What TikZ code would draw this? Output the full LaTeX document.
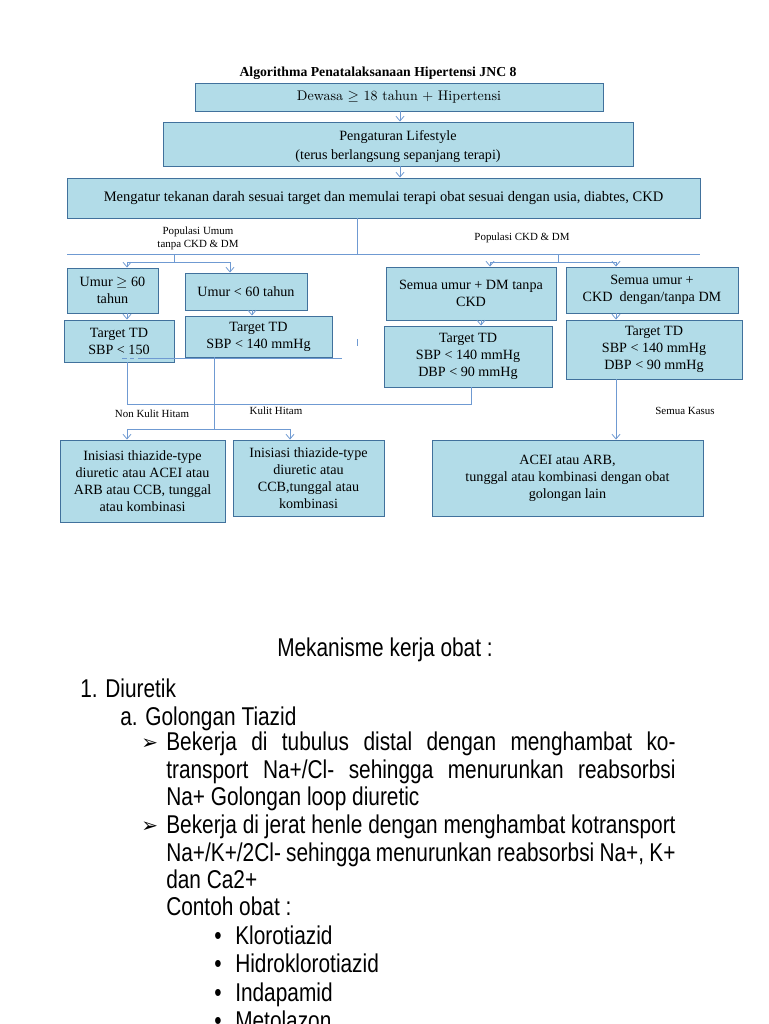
\documentclass[tikz,border=0pt]{standalone}
\usepackage{fontspec}
\setmainfont{Liberation Serif}
\newfontfamily\narrowsans[FakeStretch=0.81]{Liberation Sans}
\newfontfamily\dejavu{DejaVu Sans}
\newfontfamily\lmfont{Latin Modern Roman}
\usetikzlibrary{arrows.meta,calc}
\definecolor{boxfill}{HTML}{B2DCE8}
\definecolor{boxdraw}{HTML}{41719C}
\definecolor{linec}{HTML}{6F9AD2}
\newcommand\fcfont{\fontsize{10.6}{12.8}\selectfont}
\newcommand\fcwide{\fontsize{10.6}{14.5}\selectfont}
\newcommand\lblfont{\fontsize{8.2}{9.6}\selectfont}
\newcommand\bodyfont{\narrowsans\fontsize{19.3}{21}\selectfont}
\begin{document}
\begin{tikzpicture}[x=0.75pt,y=-0.75pt,
  box/.style={draw=boxdraw, fill=boxfill, line width=0.7pt, inner sep=0pt, align=center, font=\fcfont},
  sz/.style 2 args={minimum width=#1*0.75pt, minimum height=#2*0.75pt},
  ln/.style={draw=linec, line width=0.6pt},
  arr/.style={ln, -{Straight Barb[length=3.5pt,width=6pt]}},
  lbl/.style={font=\lblfont, inner sep=0pt, align=center},
  txt/.style={font=\bodyfont, anchor=base west, inner sep=0pt},
  arrowbullet/.style={txt, font=\dejavu\fontsize{15}{16}\selectfont}]
\useasboundingbox (0,0) rectangle (768,1024);
\fill[white] (0,0) rectangle (768,1024);

% title
\node[font=\bfseries\fontsize{10.3}{12}\selectfont, inner sep=0pt] (title) at (378,73) {Algorithma Penatalaksanaan Hipertensi JNC 8};

% boxes
\node[box, sz={408}{28}, font=\lmfont\fontsize{10.5}{12}\selectfont] (dewasa) at (399,97) {Dewasa $\geq$ 18 tahun + Hipertensi};
\node[box, sz={470}{44}, font=\fcwide] (life) at (398,144) {\rule{0pt}{11pt}Pengaturan Lifestyle\\(terus berlangsung sepanjang terapi)};
\node[box, sz={633}{40}, font=\fontsize{10.9}{13}\selectfont] (atur) at (383.5,198) {Mengatur tekanan darah sesuai target dan memulai terapi obat sesuai dengan usia, diabtes, CKD};

\node[box, sz={91}{45}] (a60) at (112.5,290.5) {Umur $\geq$ 60\\tahun};
\node[box, sz={122}{37}] (lt60) at (246,291.5) {Umur {\textless} 60 tahun};
\node[box, sz={110}{42}] (t150) at (119,341) {Target TD\\SBP {\textless} 150};
\node[box, sz={147}{41}] (t140a) at (258.5,336.5) {Target TD\\SBP {\textless} 140 mmHg};
\node[box, sz={170}{53}] (dm) at (471,293.5) {Semua umur + DM tanpa\\CKD};
\node[box, sz={172}{46}] (ckd) at (652,290) {Semua umur +\\CKD\ \ dengan/tanpa DM};
\node[box, sz={168}{61}] (t140b) at (468,356.5) {Target TD\\SBP {\textless} 140 mmHg\\DBP {\textless} 90 mmHg};
\node[box, sz={176}{59}] (t140c) at (654,349.5) {Target TD\\SBP {\textless} 140 mmHg\\DBP {\textless} 90 mmHg};

\node[box, sz={165}{82}] (nk) at (142.5,481) {Inisiasi thiazide-type\\diuretic atau ACEI atau\\ARB atau CCB, tunggal\\atau kombinasi};
\node[box, sz={151}{76}] (k) at (308.5,478) {Inisiasi thiazide-type\\diuretic atau\\CCB,tunggal atau\\kombinasi};
\node[box, sz={271}{76}] (acei) at (567.5,478) {ACEI atau ARB,\\tunggal atau kombinasi dengan obat\\golongan lain};

% labels
\node[lbl] (popu) at (198,238) {Populasi Umum\\tanpa CKD \& DM};
\node[lbl] (popc) at (522,238) {Populasi CKD \& DM};
\node[lbl] (nkh) at (152,414) {Non Kulit Hitam};
\node[lbl] (kh) at (276,411) {Kulit Hitam};
\node[lbl] (sk) at (685,411) {Semua Kasus};

% helper coordinates
\coordinate (split) at (357,254);
\coordinate (hl) at (67,254);
\coordinate (hr) at (700,254);
\coordinate (ls) at (174,254);
\coordinate (lsd) at (174,262);
\coordinate (lL) at (127,262);
\coordinate (lR) at (230,262);
\coordinate (rs) at (558,254);
\coordinate (rsd) at (558,262);
\coordinate (rL) at (490,262);
\coordinate (rR) at (616,262);
\coordinate (xa) at (127,0);
\coordinate (xb) at (252,0);
\coordinate (xc) at (481,0);
\coordinate (xd) at (616,0);
\coordinate (xe) at (214,0);
\coordinate (xf) at (471,0);
\coordinate (xg) at (400,0);
\coordinate (bl) at (127,404);
\coordinate (br) at (471,404);
\coordinate (kdown) at (214,429);
\coordinate (kL) at (127,429);
\coordinate (kR) at (290,429);
\coordinate (stA) at (138,358);
\coordinate (stB) at (342,358);
\coordinate (tickA) at (357,339);
\coordinate (tickB) at (357,346);
\coordinate (dashA) at (122,358);
\coordinate (dashB) at (134,358);

% connectors
\draw[arr] (dewasa.south -| xg) -- (life.north -| xg);
\draw[arr] (life.south -| xg) -- (atur.north -| xg);
\draw[ln] (atur.south -| split) -- (split);
\draw[ln] (hl) -- (hr);
\draw[ln] (ls) -- (lsd);
\draw[ln] (lL) -- (lR);
\draw[arr] (lL) -- (a60.north -| lL);
\draw[arr] (lR) -- (lt60.north -| lR);
\draw[ln] (rs) -- (rsd);
\draw[ln] (rL) -- (rR);
\draw[arr] (rL) -- (dm.north -| rL);
\draw[arr] (rR) -- (ckd.north -| rR);

\draw[arr] (a60.south -| xa) -- (t150.north -| xa);
\draw[arr] (lt60.south -| xb) -- (t140a.north -| xb);
\draw[arr] (dm.south -| xc) -- (t140b.north -| xc);
\draw[arr] (ckd.south -| xd) -- (t140c.north -| xd);

\draw[ln] (stA) -- (stB);
\draw[ln] (tickA) -- (tickB);
\draw[ln, dash pattern=on 4pt off 2pt] (dashA) -- (dashB);

\draw[ln] (t150.south -| xa) -- (bl) -- (br) -- (t140b.south -| xf);
\draw[ln] (t140a.south -| xe) -- (kdown);
\draw[ln] (kL) -- (kR);
\draw[arr] (kL) -- (nk.north -| kL);
\draw[arr] (kR) -- (k.north -| kR);
\draw[arr] (t140c.south -| xd) -- (acei.north -| xd);

% lower text
\node[font=\bodyfont, inner sep=0pt, anchor=base] (mek) at (385,656) {Mekanisme kerja obat :};
\node[txt] (d1) at (80,697) {1. Diuretik};
\node[txt] (da) at (120,725) {a. Golongan Tiazid};
\node[arrowbullet] (b1) at (141,749) {➢};
\node[txt] (l1) at (166,750) {\makebox[382pt][s]{Bekerja di tubulus distal dengan menghambat ko-}};
\node[txt] (l2) at (166,778) {\makebox[382pt][s]{transport Na+/Cl- sehingga menurunkan reabsorbsi}};
\node[txt] (l3) at (166,805) {Na+ Golongan loop diuretic};
\node[arrowbullet] (b2) at (141,832) {➢};
\node[txt] (l4) at (166,833) {\makebox[382pt][s]{Bekerja di jerat henle dengan menghambat kotransport}};
\node[txt] (l5) at (166,861) {\makebox[382pt][s]{Na+/K+/2Cl- sehingga menurunkan reabsorbsi Na+, K+}};
\node[txt] (l6) at (166,888) {dan Ca2+};
\node[txt] (l7) at (166,915) {Contoh obat :};
\foreach \n/\yy/\t in {c1/944/Klorotiazid, c2/972/Hidroklorotiazid, c3/1001/Indapamid, c4/1029/Metolazon}{
  \node[txt] (\n b) at (214,\yy) {\textbullet};
  \node[txt] (\n) at (235,\yy) {\t};
}
\end{tikzpicture}
\end{document}
